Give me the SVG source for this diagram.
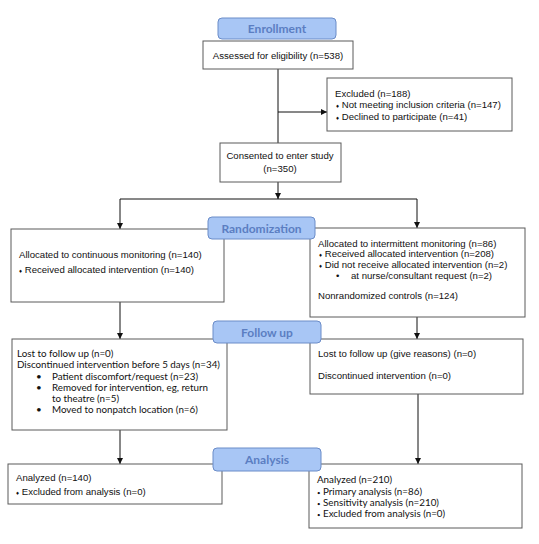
<svg xmlns="http://www.w3.org/2000/svg" width="539" height="544" viewBox="0 0 539 544">
<defs>
<marker id="ah" viewBox="0 0 6 6" refX="6" refY="3" markerWidth="6" markerHeight="6" orient="auto" markerUnits="userSpaceOnUse">
<path d="M0,0 L6,3 L0,6 z" fill="#111"/>
</marker>
</defs>
<style>
.box{fill:#fff;stroke:#5a5a5a;stroke-width:1}
.tab{fill:#a8c6f5;stroke:#6b8cc8;stroke-width:1}
.tt{font-family:Lato,"Open Sans",sans-serif;font-weight:bold;font-size:12px;fill:#5b7ec2;text-anchor:middle}
.a{font-family:"Liberation Sans",Arial,sans-serif;font-size:9.6px;fill:#111}
.c{font-family:Lato,"Liberation Sans",sans-serif;font-size:9.8px;fill:#111}
.b{font-size:6px}
.ln{stroke:#111;stroke-width:1;fill:none}
</style>
<rect width="539" height="544" fill="#fff"/>
<g id="connectors">
<line class="ln" x1="278" y1="69" x2="278" y2="143"/>
<line class="ln" x1="278" y1="112" x2="327" y2="112" marker-end="url(#ah)"/>
<line class="ln" x1="278" y1="182" x2="278" y2="199" marker-end="url(#ah)"/>
<line class="ln" x1="120" y1="199" x2="417" y2="199"/>
<line class="ln" x1="120" y1="199" x2="120" y2="229" marker-end="url(#ah)"/>
<line class="ln" x1="417" y1="199" x2="417" y2="228" marker-end="url(#ah)"/>
<line class="ln" x1="120" y1="302" x2="120" y2="339" marker-end="url(#ah)"/>
<line class="ln" x1="120" y1="430" x2="120" y2="464" marker-end="url(#ah)"/>
<line class="ln" x1="417" y1="317" x2="417" y2="339" marker-end="url(#ah)"/>
<line class="ln" x1="418" y1="394" x2="418" y2="464" marker-end="url(#ah)"/>
</g>
<g id="assessed">
<rect class="box" x="203" y="41" width="150" height="28"/>
<text class="a" x="278" y="59" text-anchor="middle">Assessed for eligibility (n=538)</text>
</g>
<g id="excluded">
<rect class="box" x="327" y="78" width="185" height="53"/>
<text class="a" x="335" y="96.5">Excluded (n=188)</text>
<text class="a" x="336" y="108"><tspan class="b">♦</tspan> Not meeting inclusion criteria (n=147)</text>
<text class="a" x="336" y="119.5"><tspan class="b">♦</tspan> Declined to participate (n=41)</text>
</g>
<g id="consented">
<rect class="box" x="220" y="143" width="121" height="39"/>
<text class="a" x="280" y="159" text-anchor="middle">Consented to enter study</text>
<text class="a" x="280" y="172" text-anchor="middle">(n=350)</text>
</g>
<g id="alloc-continuous">
<rect class="box" x="11" y="229" width="213" height="73"/>
<text class="a" x="19" y="258">Allocated to continuous monitoring (n=140)</text>
<text class="a" x="19" y="273"><tspan class="b">♦</tspan> Received allocated intervention (n=140)</text>
</g>
<g id="alloc-intermittent">
<rect class="box" x="310" y="228" width="215" height="89"/>
<text class="a" x="318" y="246.5">Allocated to intermittent monitoring (n=86)</text>
<text class="a" x="319" y="257"><tspan class="b">♦</tspan> Received allocated intervention (n=208)</text>
<text class="a" x="319" y="267.5"><tspan class="b">♦</tspan> Did not receive allocated intervention (n=2)</text>
<text class="a" x="336" y="278.5">•</text>
<text class="a" x="351" y="278.5">at nurse/consultant request (n=2)</text>
<text class="a" x="318" y="298.5">Nonrandomized controls (n=124)</text>
</g>
<g id="followup-left">
<rect class="box" x="12" y="339" width="215" height="91"/>
<text class="c" x="17" y="357">Lost to follow up (n=0)</text>
<text class="c" x="17" y="368">Discontinued intervention before 5 days (n=34)</text>
<text class="c" x="36" y="379.5">•</text>
<text class="c" x="52" y="379.5">Patient discomfort/request (n=23)</text>
<text class="c" x="36" y="391">•</text>
<text class="c" x="52" y="391">Removed for intervention, eg, return</text>
<text class="c" x="52" y="402">to theatre (n=5)</text>
<text class="c" x="36" y="413">•</text>
<text class="c" x="52" y="413">Moved to nonpatch location (n=6)</text>
</g>
<g id="followup-right">
<rect class="box" x="310" y="339" width="213" height="55"/>
<text class="a" x="318" y="357">Lost to follow up (give reasons) (n=0)</text>
<text class="a" x="318" y="378.5">Discontinued intervention (n=0)</text>
</g>
<g id="analyzed-left">
<rect class="box" x="8" y="464" width="214" height="40"/>
<text class="a" x="16" y="480.5">Analyzed (n=140)</text>
<text class="a" x="16" y="494.5"><tspan class="b">♦</tspan> Excluded from analysis (n=0)</text>
</g>
<g id="analyzed-right">
<rect class="box" x="309" y="464" width="213" height="64"/>
<text class="c" x="317" y="482.5">Analyzed (n=210)</text>
<text class="c" x="317" y="494.5"><tspan class="b">•</tspan> Primary analysis (n=86)</text>
<text class="c" x="317" y="505.5"><tspan class="b">•</tspan> Sensitivity analysis (n=210)</text>
<text class="c" x="317" y="516.5"><tspan class="b">•</tspan> Excluded from analysis (n=0)</text>
</g>
<g id="tab-enrollment">
<rect class="tab" x="218" y="18" width="118" height="21" rx="4"/>
<text class="tt" x="277" y="32.5">Enrollment</text>
</g>
<g id="tab-randomization">
<rect class="tab" x="208" y="217" width="107" height="22" rx="4"/>
<text class="tt" x="261.5" y="232.5">Randomization</text>
</g>
<g id="tab-followup">
<rect class="tab" x="213" y="321" width="108" height="22" rx="4"/>
<text class="tt" x="267" y="336.5">Follow up</text>
</g>
<g id="tab-analysis">
<rect class="tab" x="213" y="448" width="108" height="23" rx="4"/>
<text class="tt" x="267" y="464">Analysis</text>
</g>
</svg>
